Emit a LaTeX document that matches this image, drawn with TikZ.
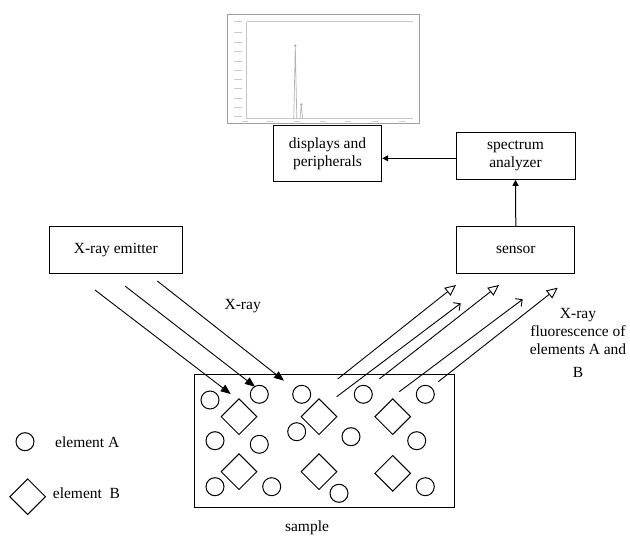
\documentclass[tikz,border=0pt]{standalone}
\usepackage{fontspec}
\setmainfont{Liberation Serif}
\usetikzlibrary{arrows.meta,shapes.geometric}
\begin{document}
\begin{tikzpicture}[x=1pt,y=-1pt,
  font=\fontsize{15.5}{18.3}\selectfont,
  box/.style={draw,line width=1pt,inner sep=0pt,align=center},
  atomA/.style={draw,circle,line width=1pt,minimum size=18pt,inner sep=0pt},
  atomB/.style={draw,diamond,aspect=1,line width=1pt,minimum size=36pt,inner sep=0pt},
  conn/.style={line width=1pt,-{Triangle[length=6pt,width=6pt]}},
  inray/.style={line width=0.9pt,-{Triangle[length=10pt,width=8pt]}},
  outray/.style={line width=0.9pt,-{Triangle[open,length=11pt,width=10pt]}},
  outbarb/.style={line width=0.9pt,-{Straight Barb[length=5pt,width=10pt]}},
  specline/.style={gray!45,line width=0.6pt},
  lbl/.style={inner sep=0pt}
]
\useasboundingbox (0,0) rectangle (630,543);

% spectrum picture
\draw[gray!75,line width=1pt] (227.7,15) rectangle (419,124);
\draw[specline] (246.7,21.7) -- (413,21.7);
\draw[specline] (246.7,21.7) -- (246.7,118.3) -- (413,118.3);
\foreach \yy in {21.7,33,42.7,52,61.7,70.7,80,89,98.7,108,117}
  \draw[gray!40,line width=1pt] (234,\yy) -- (241.5,\yy);
\foreach \xx in {245,270,296.7,323,348,375,401.7}
  \draw[gray!40,line width=1pt] (\xx-3,121.3) -- (\xx+3,121.3);
\draw[gray!60,line width=0.7pt] (293.8,118.3) -- (295.3,46) -- (296.8,118.3);
\draw[gray!60,line width=0.7pt] (300,118.3) -- (301.3,105) -- (302.6,118.3);
\fill[gray!65] (295.3,45.5) circle (1.2pt);
\fill[gray!65] (301.3,104.5) circle (1.2pt);

% boxes
\node[box,minimum width=108.4pt,minimum height=56pt] (disp) at (327.5,153.7) {displays and\\peripherals};
\node[box,minimum width=119pt,minimum height=47pt] (spec) at (515.5,155.8) {spectrum\\analyzer};
\node[box,minimum width=133pt,minimum height=46.6pt] (emit) at (115.8,250) {X-ray emitter};
\node[box,minimum width=118.3pt,minimum height=47pt] (sens) at (515.8,250) {sensor};
\node[draw,line width=1pt,minimum width=260pt,minimum height=133pt,inner sep=0pt] (smp) at (324,440.5) {};

\draw[conn] (sens.north) -- (spec.south);
\draw[conn] (spec.west |- 0,158.3) -- (disp.east |- 0,158.3);

% sample contents
\foreach \n/\p in {a1/{(210,400)},a2/{(259.3,394.3)},a3/{(301.7,394.3)},a4/{(363.3,394.3)},a5/{(425.3,394.3)},
  a6/{(215,440.7)},a7/{(259.3,444.3)},a8/{(296.7,431.7)},a9/{(351,436.7)},a10/{(416.7,440.7)},
  a11/{(215,486.7)},a12/{(271.7,486.7)},a13/{(339,493.3)},a14/{(425.3,486.7)}}
  \node[atomA] (\n) at \p {};
\foreach \n/\p in {b1/{(239,416.7)},b2/{(319,416.7)},b3/{(392.7,416.7)},
  b4/{(239,471.7)},b5/{(319,471.7)},b6/{(392.7,473.3)}}
  \node[atomB] (\n) at \p {};

% incoming X-rays
\coordinate (i1s) at (95,290);    \coordinate (i1e) at (230.7,394);
\coordinate (i2s) at (125,286);   \coordinate (i2e) at (255,386.7);
\coordinate (i3s) at (157.3,281); \coordinate (i3e) at (284,380.7);
\draw[inray] (i1s) -- (i1e);
\draw[inray] (i2s) -- (i2e);
\draw[inray] (i3s) -- (i3e);
\node[lbl] (xray) at (242.7,306) {X-ray};

% outgoing fluorescence
\coordinate (o1s) at (337.7,379);   \coordinate (o1e) at (456,285);
\coordinate (o2s) at (336.7,396.7); \coordinate (o2e) at (460.7,303.3);
\coordinate (o3s) at (379.3,379);   \coordinate (o3e) at (499,285);
\coordinate (o4s) at (399.3,391.7); \coordinate (o4e) at (522.7,299.3);
\coordinate (o5s) at (438.3,381.7); \coordinate (o5e) at (557.7,287.7);
\draw[outray] (o1s) -- (o1e);
\draw[outbarb] (o2s) -- (o2e);
\draw[outray] (o3s) -- (o3e);
\draw[outbarb] (o4s) -- (o4e);
\draw[outray] (o5s) -- (o5e);
\node[lbl,align=center,anchor=north] (fluo) at (578,307.7) {X-ray\\fluorescence of\\elements A and\\[5pt]B};

% legend
\node[atomA] (legA) at (25,441.7) {};
\node[lbl,anchor=west] (legAt) at (55,441.7) {element A};
\node[atomB] (legB) at (27.7,496.7) {};
\node[lbl,anchor=west] (legBt) at (52.7,493) {element\enspace B};

\node[lbl] (smpl) at (307,528) {sample};
\end{tikzpicture}
\end{document}
